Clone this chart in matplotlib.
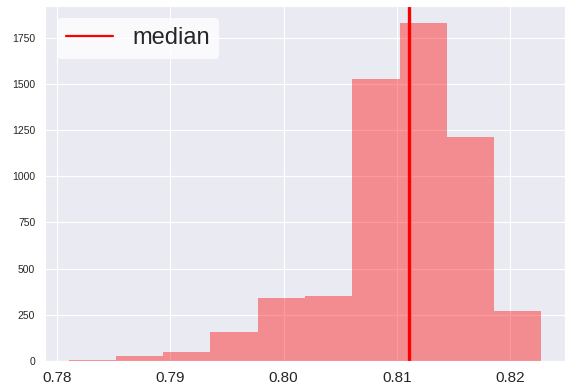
import matplotlib
matplotlib.use("Agg")
import matplotlib.pyplot as plt
import seaborn as sns
import numpy as np

sns.set_style("darkgrid")
plt.rcParams["font.family"] = ["Liberation Sans", "DejaVu Sans"]

# histogram of scores, 10 equal bins
bin_start = 0.78102
bin_width = 0.004175
counts = [5, 29, 49, 155, 341, 350, 1526, 1829, 1214, 272]
median_value = 0.81109

edges = bin_start + bin_width * np.arange(len(counts) + 1)
centers = (edges[:-1] + edges[1:]) / 2

fig = plt.figure(figsize=(5.67, 3.85), dpi=100)
ax = fig.add_axes([45 / 567, 1 - 361 / 385, 520 / 567, 355 / 385])

ax.hist(centers, bins=edges, weights=counts, color="red", alpha=0.4, linewidth=0)
ax.axvline(median_value, color="red", linewidth=2.4, label="median")

leg = ax.legend(loc="upper left", fontsize=17, facecolor="white", edgecolor="none", framealpha=0.8)
for line in leg.get_lines():
    line.set_linewidth(1.6)
ax.tick_params(axis="x", labelsize=11)
ax.tick_params(axis="y", labelsize=7.5)

fig.savefig("out.png", dpi=100)
